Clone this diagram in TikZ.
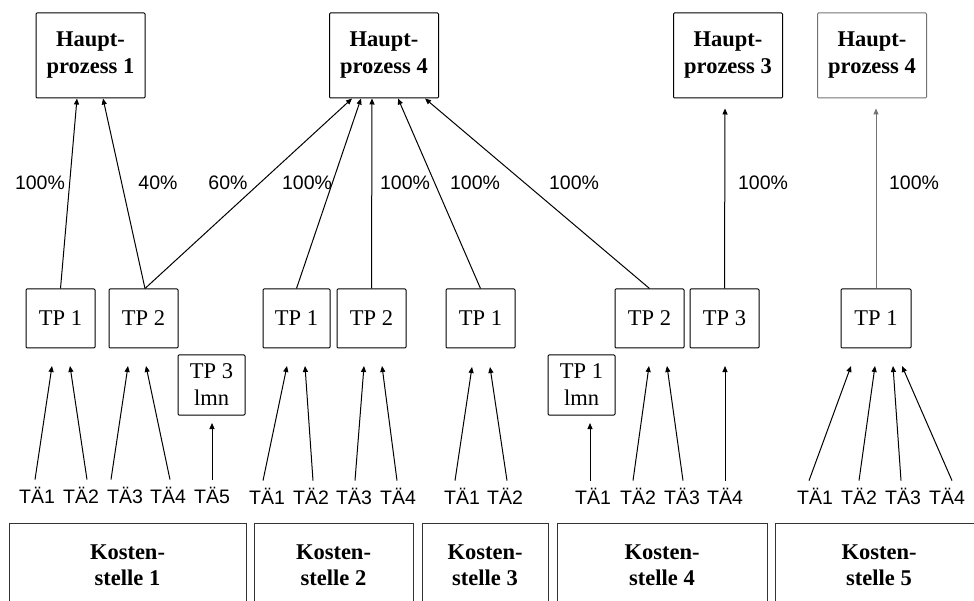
\documentclass[tikz,border=0pt]{standalone}
\usepackage{fontspec}
\setmainfont{Liberation Serif}
\newfontfamily\labelfont{Liberation Sans}
\usepackage{tikz}
\usetikzlibrary{arrows.meta}
\tikzset{hpbox/.style={draw,rounded corners=1pt,line width=1pt,inner sep=0pt,
		minimum width=109pt,minimum height=85pt,align=center,
		font=\fontsize{22.5}{27}\selectfont\bfseries},
	tpbox/.style={draw,rounded corners=1pt,line width=1pt,inner sep=0pt,
		minimum width=69pt,minimum height=59pt,align=center,
		font=\fontsize{22.5}{27}\selectfont},
	ksbox/.style={draw=black!80,line width=1pt,inner sep=0pt,
		minimum height=84pt,align=center,
		font=\fontsize{22.5}{26}\selectfont\bfseries},
	tae/.style={inner sep=0pt,inner ysep=7pt,font=\labelfont\fontsize{19.5}{22}\selectfont},
	share/.style={inner sep=0pt,font=\labelfont\fontsize{19.5}{22}\selectfont}}

\begin{document}
\begin{tikzpicture}[x=1pt,y=-1pt]
		\clip (0,0) rectangle (974,601);
		% Hauptprozesse
		\node[hpbox] (hp1) at (90.5,55.5) {Haupt-\\prozess 1};
		\node[hpbox] (hp4) at (384,55.5) {Haupt-\\prozess 4};
		\node[hpbox] (hp3) at (728,55.5) {Haupt-\\prozess 3};
		\node[hpbox,draw=black!55] (hp4b) at (872,55.5) {Haupt-\\prozess 4};
		% Teilprozesse
		\node[tpbox] (tp11) at (60.5,318.5) {TP 1};
		\node[tpbox] (tp12) at (143.5,318.5) {TP 2};
		\node[tpbox,minimum width=67pt,minimum height=60pt] (tp13) at (211.5,385) {TP 3\\lmn};
		\node[tpbox,minimum width=67pt] (tp21) at (296.5,318.5) {TP 1};
		\node[tpbox] (tp22) at (371.5,318.5) {TP 2};
		\node[tpbox] (tp31) at (480.5,318.5) {TP 1};
		\node[tpbox,minimum width=67pt,minimum height=60pt] (tp41) at (581.5,385) {TP 1\\lmn};
		\node[tpbox] (tp42) at (649.5,318.5) {TP 2};
		\node[tpbox] (tp43) at (724.5,318.5) {TP 3};
		\node[tpbox,minimum width=70pt] (tp51) at (876,318.5) {TP 1};
		% Taetigkeiten
		\node[tae] (t11) at (37,495) {TÄ1};
		\node[tae] (t12) at (81,495) {TÄ2};
		\node[tae] (t13) at (125,495) {TÄ3};
		\node[tae] (t14) at (168,495) {TÄ4};
		\node[tae] (t15) at (212,495) {TÄ5};
		\node[tae] (t21) at (267,496) {TÄ1};
		\node[tae] (t22) at (311,496) {TÄ2};
		\node[tae] (t23) at (354,496) {TÄ3};
		\node[tae] (t24) at (398,496) {TÄ4};
		\node[tae] (t31) at (462,496) {TÄ1};
		\node[tae] (t32) at (505,496) {TÄ2};
		\node[tae] (t41) at (593,496) {TÄ1};
		\node[tae] (t42) at (638,496) {TÄ2};
		\node[tae] (t43) at (682,496) {TÄ3};
		\node[tae] (t44) at (725,496) {TÄ4};
		\node[tae] (t51) at (815,496) {TÄ1};
		\node[tae] (t52) at (859,496) {TÄ2};
		\node[tae] (t53) at (903,496) {TÄ3};
		\node[tae] (t54) at (947,496) {TÄ4};
		% Kostenstellen
		\node[ksbox,minimum width=237pt] (ks1) at (127.5,565) {Kosten-\\stelle 1};
		\node[ksbox,minimum width=159pt] (ks2) at (333.5,565) {Kosten-\\stelle 2};
		\node[ksbox,minimum width=126pt] (ks3) at (485,565) {Kosten-\\stelle 3};
		\node[ksbox,minimum width=210pt] (ks4) at (662,565) {Kosten-\\stelle 4};
		\node[ksbox,minimum width=208pt] (ks5) at (879,565) {Kosten-\\stelle 5};
		% Anteile
		\node[share] (p1) at (40,183) {100\%};
		\node[share] (p2) at (158,183) {40\%};
		\node[share] (p3) at (228,183) {60\%};
		\node[share] (p4) at (307,183) {100\%};
		\node[share] (p5) at (405,183) {100\%};
		\node[share] (p6) at (475,183) {100\%};
		\node[share] (p7) at (574,183) {100\%};
		\node[share] (p8) at (763,183) {100\%};
		\node[share] (p9) at (914,183) {100\%};
		% Pfeilspitzen unter den Teilprozessen
		\coordinate (e11) at (52,366);
		\coordinate (e12) at (70,366);
		\coordinate (e13) at (128,366);
		\coordinate (e14) at (146,366);
		\coordinate (e15) at (212,423);
		\coordinate (e21) at (287,366);
		\coordinate (e22) at (305,366);
		\coordinate (e23) at (364,366);
		\coordinate (e24) at (382,366);
		\coordinate (e31) at (472,367);
		\coordinate (e32) at (490,367);
		\coordinate (e41) at (590,423);
		\coordinate (e42) at (649,366);
		\coordinate (e43) at (667,366);
		\coordinate (e44) at (725,366);
		\coordinate (e51) at (851,366);
		\coordinate (e52) at (875,366);
		\coordinate (e53) at (893,366);
		\coordinate (e54) at (902,366);
		\begin{scope}[>={Triangle[length=6pt,width=5pt]},
			every edge/.style={draw,line width=1pt}]
			% Taetigkeiten -> Teilprozesse
			\path [->] ([xshift=-2pt]t11.north) edge (e11);
			\path [->] ([xshift=6pt]t12.north) edge (e12);
			\path [->] ([xshift=-14pt]t13.north) edge (e13);
			\path [->] ([xshift=2pt]t14.north) edge (e14);
			\path [->] (t15.north) edge (e15);
			\path [->] ([xshift=-4pt]t21.north) edge (e21);
			\path [->] ([xshift=2pt]t22.north) edge (e22);
			\path [->] ([xshift=1pt]t23.north) edge (e23);
			\path [->] ([xshift=-1pt]t24.north) edge (e24);
			\path [->] ([xshift=-7pt]t31.north) edge (e31);
			\path [->] ([xshift=2pt]t32.north) edge (e32);
			\path [->] ([xshift=-3pt]t41.north) edge (e41);
			\path [->] ([xshift=-5pt]t42.north) edge (e42);
			\path [->] ([xshift=1pt]t43.north) edge (e43);
			\path [->] (t44.north) edge (e44);
			\path [->] ([xshift=-6pt]t51.north) edge (e51);
			\path [->] (t52.north) edge (e52);
			\path [->] ([xshift=-2pt]t53.north) edge (e53);
			\path [->] ([xshift=5pt]t54.north) edge (e54);
			% Teilprozesse -> Hauptprozesse
			\path [->] (tp11.north) edge ([xshift=-13.5pt]hp1.south);
			\path [->] ([xshift=1.5pt]tp12.north) edge ([xshift=12.5pt]hp1.south);
			\path [->] ([xshift=1.5pt]tp12.north) edge ([xshift=-32pt]hp4.south);
			\path [->] (tp21.north) edge ([xshift=-23pt]hp4.south);
			\path [->] (tp22.north) edge ([xshift=-12pt]hp4.south);
			\path [->] (tp31.north) edge ([xshift=14pt]hp4.south);
			\path [->] (tp42.north) edge ([xshift=41pt]hp4.south);
			\path [->] (tp43.north) edge ([xshift=-3pt,yshift=-10pt]hp3.south);
			\path [->,every edge/.append style={draw=black!55}] (tp51.north) edge ([xshift=4pt,yshift=-10pt]hp4b.south);
		\end{scope}
	\end{tikzpicture}
\end{document}
